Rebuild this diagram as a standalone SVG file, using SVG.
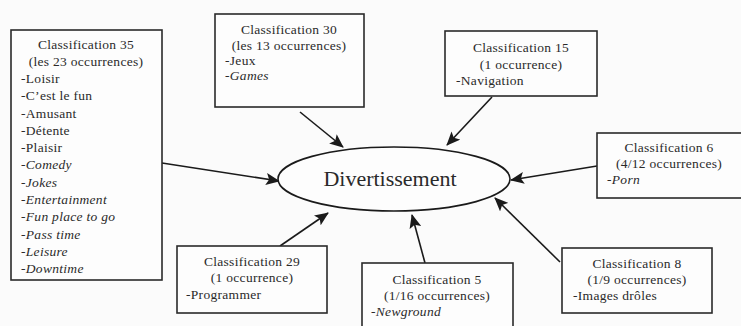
<svg xmlns="http://www.w3.org/2000/svg" width="741" height="326" viewBox="0 0 741 326">
<defs>
<marker id="ah" markerWidth="14" markerHeight="12" refX="13" refY="6" orient="auto" markerUnits="userSpaceOnUse">
<path d="M0,0 L14,6 L0,12 L3,6 Z" fill="#1a1a1a"/>
</marker>
<style>
.box{fill:#fdfdfd;stroke:#2a2a2a;stroke-width:1.6}
.t{font-family:"Liberation Serif","Times New Roman",serif;font-size:13.5px;fill:#2a2a2a;letter-spacing:0.3px}
.c{text-anchor:middle}
.i{font-style:italic}
.ln{stroke:#1a1a1a;stroke-width:1.6;fill:none;marker-end:url(#ah)}
</style>
</defs>
<rect width="741" height="326" fill="#fbfbfb"/>
<g id="connectors">
<line class="ln" x1="162" y1="163" x2="279" y2="181"/>
<line class="ln" x1="300" y1="112" x2="343" y2="147"/>
<line class="ln" x1="492" y1="97" x2="447" y2="145"/>
<line class="ln" x1="597" y1="166" x2="511" y2="180"/>
<line class="ln" x1="560" y1="262" x2="495" y2="198"/>
<line class="ln" x1="425" y1="263" x2="412" y2="215"/>
<line class="ln" x1="280" y1="246" x2="328" y2="213"/>
</g>
<g id="center">
<ellipse cx="394" cy="179" rx="116" ry="32" fill="#fdfdfd" stroke="#1a1a1a" stroke-width="1.6"/>
<text class="t c" x="390" y="186" style="font-size:22px;letter-spacing:0">Divertissement</text>
</g>
<g id="c35">
<rect class="box" x="11" y="30" width="151" height="250"/>
<text class="t c" x="86" y="49">Classification 35</text>
<text class="t c" x="86" y="66">(les 23 occurrences)</text>
<text class="t" x="21" y="83">-Loisir</text>
<text class="t" x="21" y="100">-C’est le fun</text>
<text class="t" x="21" y="118">-Amusant</text>
<text class="t" x="21" y="135">-Détente</text>
<text class="t" x="21" y="152">-Plaisir</text>
<text class="t i" x="21" y="169">-Comedy</text>
<text class="t i" x="21" y="187">-Jokes</text>
<text class="t i" x="21" y="204">-Entertainment</text>
<text class="t i" x="21" y="221">-Fun place to go</text>
<text class="t i" x="21" y="239">-Pass time</text>
<text class="t i" x="21" y="256">-Leisure</text>
<text class="t i" x="21" y="273">-Downtime</text>
</g>
<g id="c30">
<rect class="box" x="215" y="14" width="149" height="93"/>
<text class="t c" x="289" y="34">Classification 30</text>
<text class="t c" x="289" y="50">(les 13 occurrences)</text>
<text class="t" x="225" y="65">-Jeux</text>
<text class="t i" x="225" y="80">-Games</text>
</g>
<g id="c15">
<rect class="box" x="445" y="31" width="152" height="65"/>
<text class="t c" x="521" y="52">Classification 15</text>
<text class="t c" x="521" y="69">(1 occurrence)</text>
<text class="t" x="456" y="85">-Navigation</text>
</g>
<g id="c6">
<rect class="box" x="597" y="133" width="150" height="65"/>
<text class="t c" x="669" y="152">Classification 6</text>
<text class="t c" x="669" y="168">(4/12 occurrences)</text>
<text class="t i" x="607" y="184">-Porn</text>
</g>
<g id="c29">
<rect class="box" x="177" y="246" width="150" height="67"/>
<text class="t c" x="252" y="266">Classification 29</text>
<text class="t c" x="252" y="282">(1 occurrence)</text>
<text class="t" x="186" y="299">-Programmer</text>
</g>
<g id="c5">
<rect class="box" x="362" y="263" width="151" height="70"/>
<text class="t c" x="437" y="284">Classification 5</text>
<text class="t c" x="437" y="300">(1/16 occurrences)</text>
<text class="t i" x="371" y="316">-Newground</text>
</g>
<g id="c8">
<rect class="box" x="562" y="248" width="150" height="65"/>
<text class="t c" x="637" y="268">Classification 8</text>
<text class="t c" x="637" y="284">(1/9 occurrences)</text>
<text class="t" x="573" y="300">-Images drôles</text>
</g>
</svg>
